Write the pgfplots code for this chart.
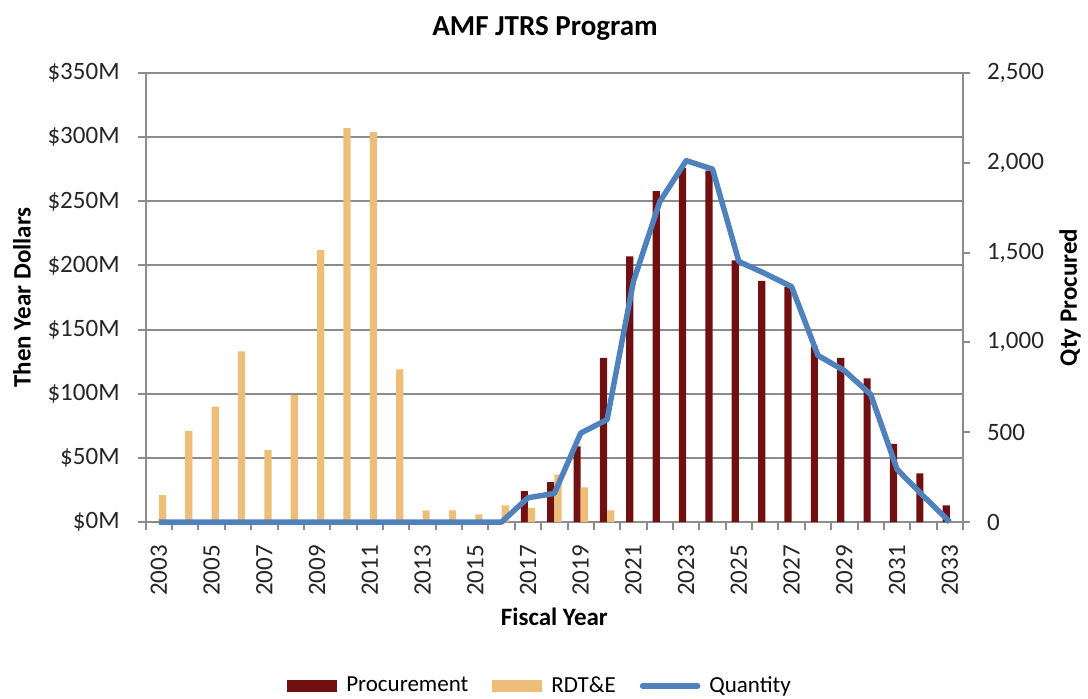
\documentclass[border=0pt]{standalone}
\usepackage{fontspec}
\setmainfont{Carlito}
\usepackage{pgfplots}
\usepackage{pgfplotstable}
\pgfplotsset{compat=1.18}

\definecolor{procred}{HTML}{701010}
\definecolor{rdtetan}{HTML}{EEBE78}
\definecolor{qtyblue}{HTML}{4F81BD}
\definecolor{gridgray}{HTML}{8C8C8C}

% idx = category position, proc/rdte in $M, qty in units
\pgfplotstableread{
idx year proc rdte qty
0  2003 0   21  0
1  2004 0   71  0
2  2005 0   90  0
3  2006 0   133 0
4  2007 0   56  0
5  2008 0   99  0
6  2009 0   212 0
7  2010 0   307 0
8  2011 0   304 0
9  2012 0   119 0
10 2013 0   9   0
11 2014 0   9   0
12 2015 0   6   0
13 2016 0   13  0
14 2017 24  11  135
15 2018 31  37  159
16 2019 59  27  495
17 2020 128 9   570
18 2021 207 0   1340
19 2022 258 0   1784
20 2023 276 0   2012
21 2024 274 0   1965
22 2025 204 0   1450
23 2026 188 0   1383
24 2027 183 0   1310
25 2028 137 0   927
26 2029 128 0   843
27 2030 112 0   710
28 2031 61  0   293
29 2032 38  0   144
30 2033 13  0   0
}\amfdata

\begin{document}
\begin{tikzpicture}
\pgfplotsset{
  amfbase/.style={
    width=408.65pt, height=224.5pt, scale only axis,
    xmin=-0.5, xmax=30.5,
    tick align=outside,
    axis line style={draw=gridgray, line width=1pt},
    tick label style={font=\fontsize{12.5}{15}\selectfont, text=black!85},
    label style={font=\bfseries\fontsize{12.5}{15}\selectfont},
  }
}

\begin{axis}[
  amfbase,
  axis x line*=bottom, axis y line*=left,
  ymin=0, ymax=350,
  ytick={0,50,...,350},
  yticklabels={\$0M,\$50M,\$100M,\$150M,\$200M,\$250M,\$300M,\$350M},
  yticklabel style={xshift=-5.5pt},
  ymajorgrids,
  grid style={gridgray, line width=1pt},
  major tick length=4pt,
  y tick style={draw=gridgray, line width=1pt},
  xtick={0,2,...,30},
  xticklabels={2003,2005,2007,2009,2011,2013,2015,2017,2019,2021,2023,2025,2027,2029,2031,2033},
  major x tick style={draw=none},
  minor xtick={-0.5,0.5,...,30.5},
  minor x tick style={draw=gridgray, line width=1pt},
  minor tick length=4pt,
  xticklabel style={yshift=-4pt, rotate=90, anchor=east},
  xlabel={Fiscal Year},
  xlabel style={at={(axis description cs:0.5,-0.2116)}, anchor=center},
  ylabel={Then Year Dollars},
  ylabel style={at={(axis description cs:-0.1514,0.5)}, anchor=center},
  title={AMF JTRS Program},
  every axis title shift=0pt,
  title style={at={(axis description cs:0.4886,1.1)}, anchor=center, yshift=0pt,
    font=\bfseries\fontsize{14.5}{17}\selectfont},
  legend columns=3,
  legend cell align=left,
  legend style={at={(axis description cs:0.4837,-0.3653)}, anchor=center, draw=none,
    font=\fontsize{11.5}{14}\selectfont,
    /tikz/every odd column/.append style={column sep=2.5pt},
    /tikz/every even column/.append style={column sep=10pt}},
]
\addplot[ybar, bar width=3.6pt, bar shift=-1.8pt, fill=procred, draw=none,
  legend image code/.code={\fill[procred] (0pt,-2.9pt) rectangle (25pt,2.9pt);}]
  table[x=idx, y=proc] {\amfdata};
\addlegendentry{Procurement}
\addplot[ybar, bar width=3.6pt, bar shift=1.8pt, fill=rdtetan, draw=none,
  legend image code/.code={\fill[rdtetan] (0pt,-2.9pt) rectangle (25pt,2.9pt);}]
  table[x=idx, y=rdte] {\amfdata};
\addlegendentry{RDT\&E}
\addlegendimage{qtyblue, line width=2.75pt,
  legend image code/.code={\draw[qtyblue, line width=2.75pt, line cap=round] (0pt,0pt) -- (27.5pt,0pt);}}
\addlegendentry{Quantity}
\end{axis}

\begin{axis}[
  amfbase,
  axis x line=none, axis y line*=right,
  clip=false,
  ymin=0, ymax=2500,
  ytick={0,500,...,2500},
  yticklabels={0,500,{1,000},{1,500},{2,000},{2,500}},
  yticklabel style={xshift=5pt},
  major tick length=3.5pt,
  y tick style={draw=gridgray, line width=1pt},
  ylabel={Qty Procured},
  ylabel style={at={(axis description cs:1.1309,0.5)}, anchor=center},
]
\addplot[qtyblue, line width=2.75pt, line join=round, mark=none]
  table[x=idx, y=qty] {\amfdata};
\end{axis}

\pgfresetboundingbox
\path (-72.85pt,-88pt) rectangle (471.15pt,261pt);
\end{tikzpicture}
\end{document}
